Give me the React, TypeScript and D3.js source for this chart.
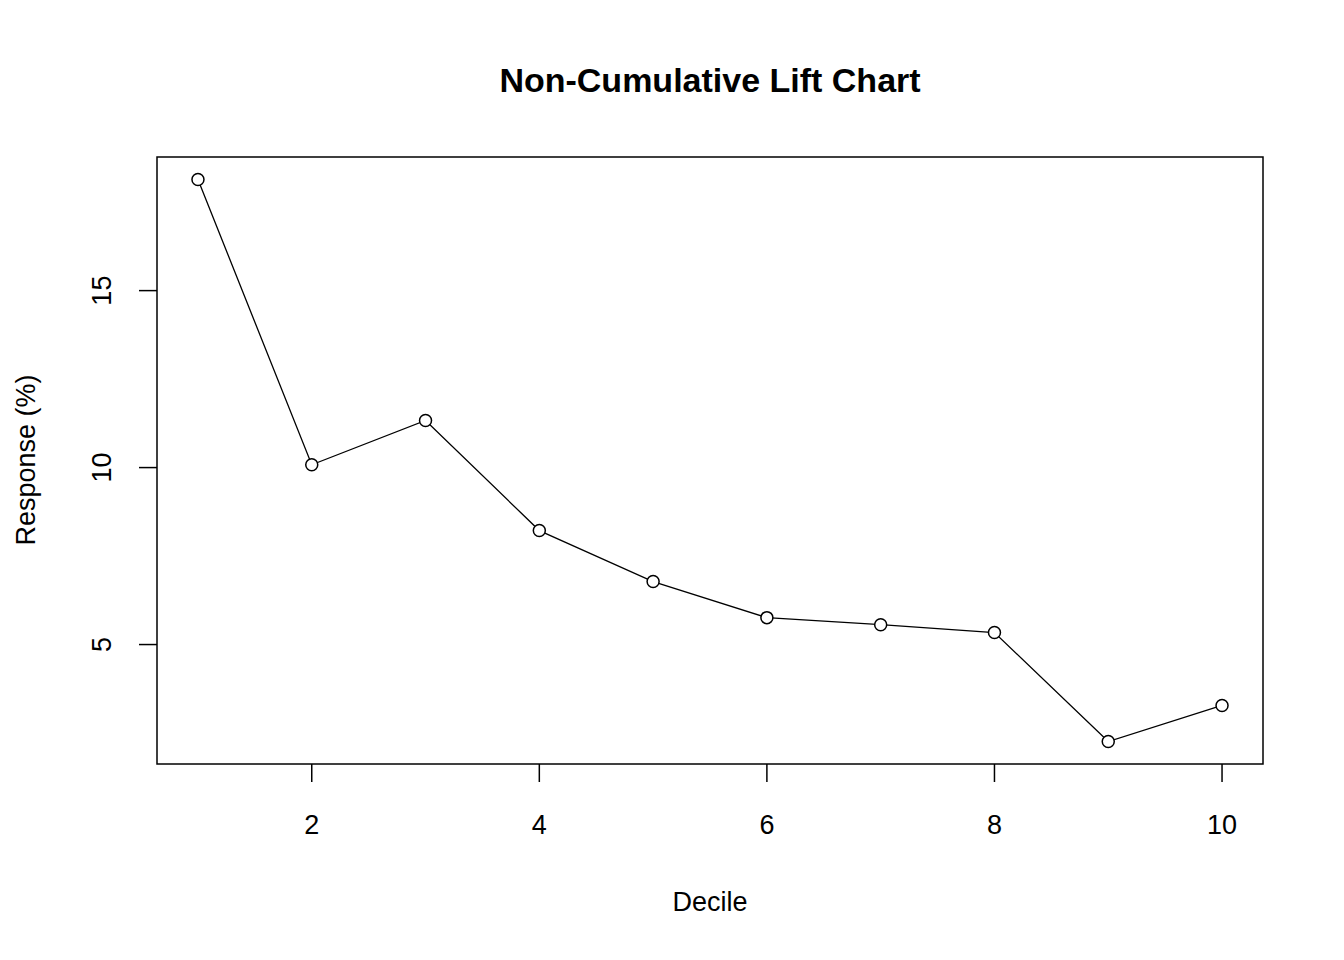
import React from "react";
import * as d3 from "d3";

const deciles = [1, 2, 3, 4, 5, 6, 7, 8, 9, 10];
const response = [18.14, 10.08, 11.33, 8.22, 6.78, 5.76, 5.56, 5.34, 2.26, 3.28];
const xTicks = [2, 4, 6, 8, 10];
const yTicks = [5, 10, 15];

export default function App() {
  const W = 1344, H = 960;
  const L = 157, R = 1263, T = 157, B = 764;
  const x = d3.scaleLinear().domain([0.64, 10.36]).range([L, R]);
  const y = d3.scaleLinear().domain([1.625, 18.775]).range([B, T]);
  const pts = deciles.map((d, i) => [x(d), y(response[i])] as [number, number]);
  const line = d3.line()(pts) || "";
  const font = "Arial, 'Liberation Sans', sans-serif";
  return (
    <svg width={W} height={H} style={{ position: "absolute", left: 0, top: 0, background: "#fff" }} fontFamily={font}>
      <text x={710} y={92} textAnchor="middle" fontSize={34} fontWeight="bold">Non-Cumulative Lift Chart</text>
      <rect x={L} y={T} width={R - L} height={B - T} fill="none" stroke="#000" strokeWidth={1.5} />
      {xTicks.map(t => (
        <g key={t}>
          <line x1={x(t)} x2={x(t)} y1={B} y2={B + 18} stroke="#000" strokeWidth={1.5} />
          <text x={x(t)} y={834} textAnchor="middle" fontSize={27}>{t}</text>
        </g>
      ))}
      {yTicks.map(t => (
        <g key={t}>
          <line x1={L - 18} x2={L} y1={y(t)} y2={y(t)} stroke="#000" strokeWidth={1.5} />
          <text transform={`translate(111,${y(t)}) rotate(-90)`} textAnchor="middle" fontSize={27}>{t}</text>
        </g>
      ))}
      <text x={710} y={911} textAnchor="middle" fontSize={27}>Decile</text>
      <text transform={`translate(35,460) rotate(-90)`} textAnchor="middle" fontSize={27}>Response (%)</text>
      <path d={line} fill="none" stroke="#000" strokeWidth={1.3} />
      {pts.map((p, i) => (
        <circle key={i} cx={p[0]} cy={p[1]} r={6} fill="#fff" stroke="#000" strokeWidth={1.5} />
      ))}
    </svg>
  );
}
